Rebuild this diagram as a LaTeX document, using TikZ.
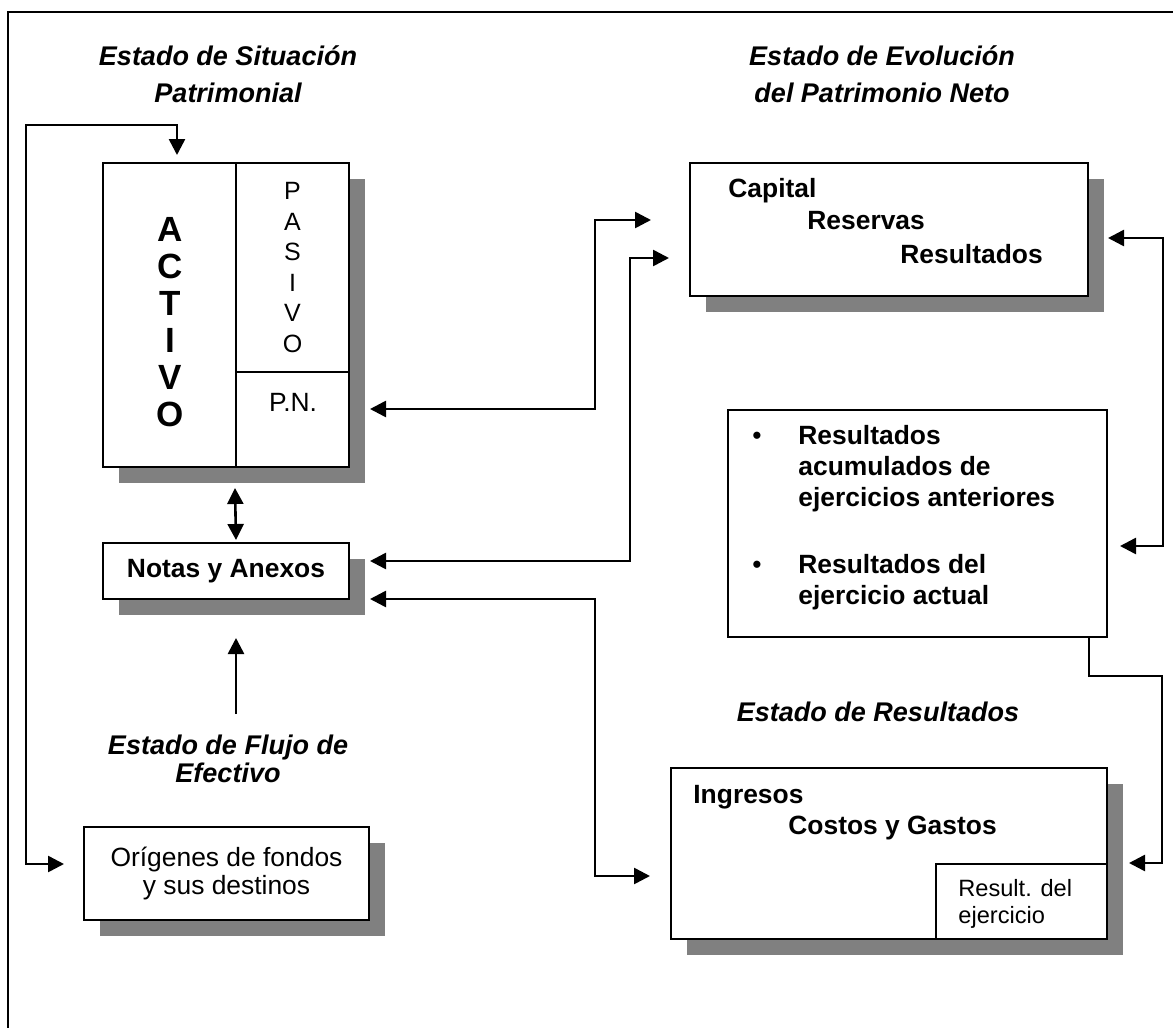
\documentclass[tikz,border=0pt]{standalone}
\usepackage{fontspec}
\setmainfont{Liberation Sans}
\usetikzlibrary{arrows.meta,shadows}

\begin{document}
\begin{tikzpicture}
[
    x=0.5pt, y=-0.5pt,
    box/.style={draw, line width=1pt, fill=white, inner sep=0pt},
    shadowbox/.style={box, drop shadow={shadow xshift=8pt, shadow yshift=-8pt, fill=black!50, opacity=1}},
    title/.style={font=\fontsize{13.5}{18.5}\selectfont\bfseries\itshape, align=center},
    txt/.style={font=\fontsize{13.2}{15.5}\selectfont\bfseries, anchor=west, inner sep=0pt},
    link/.style={line width=1.3pt, -{Triangle[length=8pt,width=8pt]}},
    both/.style={line width=1.3pt, {Triangle[length=8pt,width=8pt]}-{Triangle[length=8pt,width=8pt]}},
]
\useasboundingbox (0,0) rectangle (1173,1028);
\draw[line width=1pt] (1173,12) -- (8,12) -- (8,1028);

% titulos
\node[title] (tsit) at (228,74) {Estado de Situación\\Patrimonial};
\node[title] (tevo) at (882,74) {Estado de Evolución\\del Patrimonio Neto};
\node[title] (tres) at (878,712) {Estado de Resultados};
\node[title, font=\fontsize{13.5}{14}\selectfont\bfseries\itshape] (tflu) at (228,759) {Estado de Flujo de\\Efectivo};

% balance
\node[shadowbox, minimum width=123pt, minimum height=152pt] (balance) at (226,315) {};
\node[box, minimum width=66.5pt, minimum height=152pt] (activo) at (169.5,315) {};
\node[font=\fontsize{17.5}{18.5}\selectfont\bfseries, align=center] (activotxt) at (170,322)
    {A\\C\\T\\I\\V\\O};
\node[box, minimum width=56.5pt, minimum height=104.5pt, align=center,
      font=\fontsize{12.5}{15.3}\selectfont] (pasivo) at (292.5,267.5) {P\\A\\S\\I\\V\\O};
\node[box, minimum width=56.5pt, minimum height=47.5pt] (pn) at (292.5,419.5) {};
\node[font=\fontsize{13.2}{15}\selectfont] (pntxt) at (293,402) {P.N.};

\node[shadowbox, minimum width=123pt, minimum height=28pt,
      font=\fontsize{13.2}{15}\selectfont\bfseries] (notas) at (226,571) {Notas y Anexos};
\node[shadowbox, minimum width=142.5pt, minimum height=46.5pt, align=center,
      font=\fontsize{13.2}{14}\selectfont] (origen) at (226.5,873.5) {Orígenes de fondos\\y sus destinos};

% patrimonio neto
\node[shadowbox, minimum width=199pt, minimum height=66.5pt] (cap) at (889,229.5) {};
\node[txt] (captxt) at (728,191) {Capital};
\node[txt] (restxt) at (807,221) {Reservas};
\node[txt] (resultxt) at (900,254) {Resultados};

\node[box, minimum width=189.5pt, minimum height=113.5pt] (acum) at (917.5,523.5) {};
\node[font=\fontsize{13.2}{15}\selectfont] (bul1) at (757,438) {\textbullet};
\node[txt, align=left] (acumtxt) at (798,469) {Resultados\\acumulados de\\ejercicios anteriores};
\node[font=\fontsize{13.2}{15}\selectfont] (bul2) at (757,567) {\textbullet};
\node[txt, align=left] (actualtxt) at (798,582) {Resultados del\\ejercicio actual};

% resultados
\node[shadowbox, minimum width=218pt, minimum height=85.5pt] (eres) at (889,853.5) {};
\node[txt] (ingtxt) at (693,797) {Ingresos};
\node[txt] (costxt) at (788,828) {Costos y Gastos};
\node[box, minimum width=85.5pt, minimum height=37.5pt] (resej) at (1021.5,901.5) {};
\node[font=\fontsize{11.8}{13.5}\selectfont, align=left, anchor=west, inner sep=0pt] (resejtxt) at (958,903.5) {Result. del\\ejercicio};

% flechas
\draw[both] ([shift={(75,-7)}]balance.north west) |- ([shift={(-76,-37)}]balance.north west)
    |- ([shift={(-19,-9.5)}]origen.west);
\draw[both] ([shift={(0,20)}]pn.south west) -- ([shift={(10,-2)}]notas.north);
\draw[link] ([shift={(10,114)}]notas.south) -- ([shift={(10,38)}]notas.south);
\draw[both] ([shift={(20,-10.5)}]pn.east) -| ([shift={(-94,-9.5)}]cap.west) -- ([shift={(-38,-9.5)}]cap.west);
\draw[both] ([shift={(20,-10)}]notas.east) -| ([shift={(-59,28.5)}]cap.west) -- ([shift={(-20,28.5)}]cap.west);
\draw[both] ([shift={(20,28)}]notas.east) -| ([shift={(-75,22.5)}]eres.west) -- ([shift={(-20,22.5)}]eres.west);
\draw[both] ([shift={(19,8.5)}]cap.east) -| ([shift={(55,22.5)}]acum.east) -- ([shift={(12,22.5)}]acum.east);
\draw[link] ([shift={(-19,0)}]acum.south east) -- ++(0,38) -| ([shift={(54,0)}]resej.north east)
    -- ([shift={(21,0)}]resej.north east);
\end{tikzpicture}
\end{document}
